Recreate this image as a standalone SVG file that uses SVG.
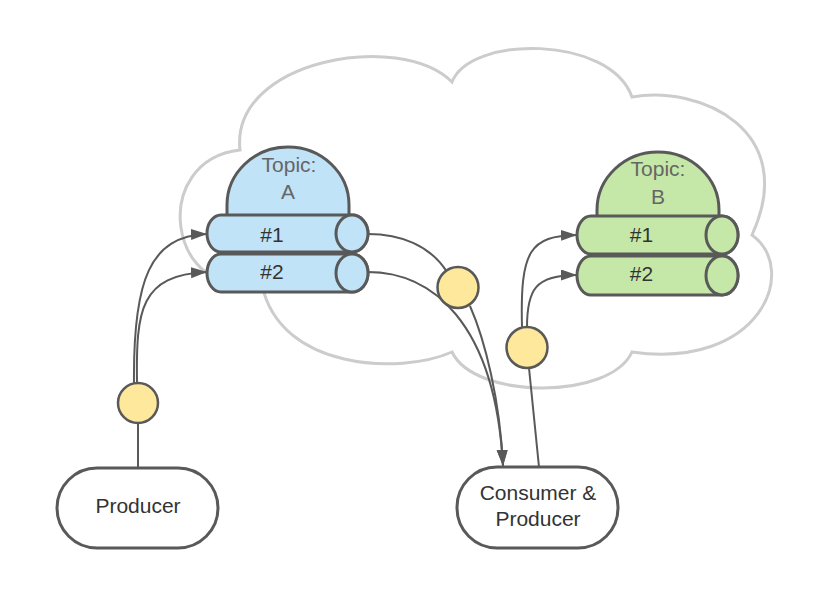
<svg xmlns="http://www.w3.org/2000/svg" width="836" height="595" viewBox="0 0 836 595">
<defs>
<style>
.cloud{fill:#ffffff;stroke:#cccccc;stroke-width:3}
.blue{fill:#c1e3f7;stroke:#595959;stroke-width:3;stroke-linejoin:round}
.green{fill:#c5e8a8;stroke:#595959;stroke-width:3;stroke-linejoin:round}
.box{fill:#ffffff;stroke:#595959;stroke-width:3}
.dot{fill:#fde89b;stroke:#595959;stroke-width:2.5}
.conn{fill:none;stroke:#595959;stroke-width:2}
.t{font-family:"Liberation Sans",Arial,sans-serif;font-size:21px;fill:#333333;text-anchor:middle}
.tt{font-family:"Liberation Sans",Arial,sans-serif;font-size:21px;fill:#666666;text-anchor:middle}
</style>
<marker id="arr" markerUnits="userSpaceOnUse" markerWidth="17" markerHeight="12" refX="16" refY="5.5" orient="auto">
<path d="M0,0 L16,5.5 L0,11 Z" fill="#595959"/>
</marker>
</defs>
<rect width="836" height="595" fill="#ffffff"/>
<g id="cloud">
<path class="cloud" d="M240,150 C230,60 400,30 452,82 C470,35 610,35 632,97 C700,85 800,130 752,235 C800,270 760,370 632,352 C610,400 475,400 452,352 C400,375 280,370 262,285 C165,300 150,160 240,150 Z"/>
</g>
<g id="connectors">
<path class="conn" d="M138,423 L138,468"/>
<path class="conn" marker-end="url(#arr)" d="M134,383 C133,280 150,236 207,234"/>
<path class="conn" marker-end="url(#arr)" d="M137,383 C136,310 140,275 207,272"/>
<path class="conn" d="M368,234 C400,234 430,245 447,272"/>
<path class="conn" marker-end="url(#arr)" d="M470,306 C485,340 500,400 503,466"/>
<path class="conn" marker-end="url(#arr)" d="M368,272 C430,272 495,320 503,466"/>
<path class="conn" d="M529,368 L539,467"/>
<path class="conn" marker-end="url(#arr)" d="M522,327 C520,250 530,236 577,235"/>
<path class="conn" marker-end="url(#arr)" d="M527,327 C527,290 535,275 577,275"/>
</g>
<g id="topicA">
<path class="blue" d="M227,216 V205 A61,58 0 0 1 349,205 V216 Z"/>
<text class="tt" x="289" y="172">Topic:</text>
<text class="tt" x="288" y="199">A</text>
</g>
<g id="topicA-p1">
<path class="blue" d="M221,215 H352 A16,18.5 0 0 1 352,252 H221 A14,18.5 0 0 1 221,215 Z"/>
<ellipse class="blue" cx="352" cy="233.5" rx="16" ry="18.5"/>
<text class="t" x="272" y="241.5">#1</text>
</g>
<g id="topicA-p2">
<path class="blue" d="M221,254 H352 A16,19 0 0 1 352,292 H221 A14,19 0 0 1 221,254 Z"/>
<ellipse class="blue" cx="352" cy="273" rx="16" ry="19"/>
<text class="t" x="272" y="279">#2</text>
</g>
<g id="topicB">
<path class="green" d="M597,217 V210 A61,58 0 0 1 719,210 V217 Z"/>
<text class="tt" x="658" y="176">Topic:</text>
<text class="tt" x="658" y="204">B</text>
</g>
<g id="topicB-p1">
<path class="green" d="M591,216 H722 A16,19 0 0 1 722,254 H591 A14,19 0 0 1 591,216 Z"/>
<ellipse class="green" cx="722" cy="235" rx="16" ry="19"/>
<text class="t" x="641.5" y="241.5">#1</text>
</g>
<g id="topicB-p2">
<path class="green" d="M591,256 H722 A16,19.5 0 0 1 722,295 H591 A14,19.5 0 0 1 591,256 Z"/>
<ellipse class="green" cx="722" cy="275.5" rx="16" ry="19.5"/>
<text class="t" x="641.5" y="281">#2</text>
</g>
<g id="dot1"><circle class="dot" cx="138" cy="403" r="20"/></g>
<g id="dot2"><circle class="dot" cx="458" cy="287.5" r="20.5"/></g>
<g id="dot3"><circle class="dot" cx="527" cy="347.5" r="20.5"/></g>
<g id="producer">
<rect class="box" x="57" y="468" width="161" height="80" rx="40" ry="40"/>
<text class="t" x="138" y="513">Producer</text>
</g>
<g id="consumer-producer">
<rect class="box" x="457" y="467" width="161" height="81" rx="40" ry="40"/>
<text class="t" x="538" y="500">Consumer &amp;</text>
<text class="t" x="538" y="526">Producer</text>
</g>
</svg>
